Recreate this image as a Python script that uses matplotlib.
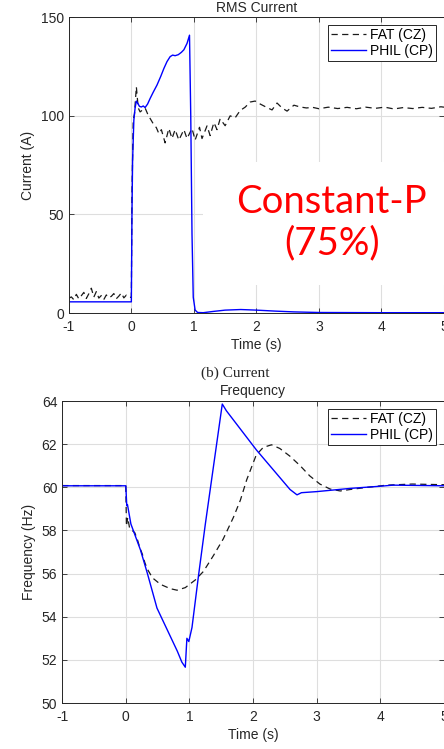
import numpy as np
import matplotlib
matplotlib.use("Agg")
import matplotlib.pyplot as plt
from matplotlib.patches import Rectangle

# RMS current (A)
t_cur_fat = [-1.0, -0.96, -0.92, -0.88, -0.84, -0.8, -0.76, -0.72, -0.68, -0.64, -0.6, -0.56, -0.52,
             -0.48, -0.44, -0.4, -0.36, -0.32, -0.28, -0.24, -0.2, -0.16, -0.12, -0.08, -0.04,
             0.0, 0.01, 0.03, 0.05, 0.08, 0.11, 0.14, 0.18, 0.22, 0.26, 0.30, 0.35, 0.40, 0.44,
             0.48, 0.54, 0.60, 0.65, 0.70, 0.76, 0.84, 0.89, 0.97, 1.02, 1.09, 1.13, 1.21, 1.26,
             1.32, 1.37, 1.42, 1.50, 1.58, 1.66, 1.74, 1.82, 1.90, 1.98, 2.06, 2.17, 2.25, 2.33,
             2.41, 2.49, 2.60, 2.70, 2.80, 2.90, 3.0, 3.15, 3.3, 3.45, 3.6, 3.75, 3.9, 4.05, 4.2,
             4.35, 4.5, 4.65, 4.8, 4.95, 5.0]
i_fat = [7.5, 8.2, 6.8, 9.5, 7.2, 8.8, 10.5, 7.4, 9.8, 12.6, 8.1, 10.9, 7.6, 8.9, 6.9, 9.2,
         7.8, 8.5, 9.9, 7.3, 8.6, 10.2, 7.7, 9.1, 8.0,
         8.0, 60, 98, 101, 114.7, 104, 102, 103, 104, 101, 98.7, 96, 94, 91,
         93, 86.3, 93.6, 88.5, 93, 87.7, 93, 88.5, 93.6, 87.7, 94.2, 88.5, 94.9, 90,
         96.6, 93, 98.5, 95, 100, 99, 102.7, 104.4, 107, 107.5, 106, 104.2, 103, 106.5,
         104, 102.4, 105.4, 104.5, 104, 104.3, 103.6, 104.4, 103.7, 104.3, 103.6, 104.4, 103.8, 104.4, 103.5,
         104.2, 103.7, 104.3, 103.8, 104.6, 104.4]

t_cur_phil = [-1.0, 0.0, 0.01, 0.02, 0.04, 0.06, 0.08, 0.10, 0.13, 0.16, 0.19, 0.22, 0.26, 0.30,
              0.35, 0.41, 0.47, 0.52, 0.57, 0.62, 0.66, 0.70, 0.75, 0.80, 0.84, 0.89, 0.93,
              0.95, 0.97, 0.99, 1.02, 1.06, 1.15, 1.3, 1.5, 1.75, 2.0, 2.3, 2.6, 3.0, 4.0, 5.0]
i_phil = [5.7, 5.7, 50, 77.5, 97.8, 104, 107.5, 106.5, 104.8, 104.5, 105, 104.2, 106, 108.8,
          112, 115.6, 120, 124, 127.5, 130, 130.8, 130.5, 131, 132.2, 133.5, 136.7, 140.9,
          100, 40, 8, 1.5, 0.3, 0.2, 0.8, 1.5, 1.8, 1.5, 1.0, 0.6, 0.3, 0.2, 0.2]

# Frequency (Hz)
t_freq_fat = [-1.0, 0.0, 0.01, 0.03, 0.06, 0.10, 0.14, 0.18, 0.22, 0.26, 0.30, 0.34, 0.42, 0.545,
              0.70, 0.805, 0.935, 1.09, 1.22, 1.38, 1.53, 1.69, 1.80, 1.90, 2.05, 2.16, 2.29,
              2.42, 2.58, 2.74, 2.89, 3.05, 3.21, 3.37, 3.53, 3.8, 4.1, 4.5, 5.0]
f_fat = [60.08, 60.08, 58.2, 58.6, 58.1, 58.0, 57.9, 57.6, 57.2, 56.9, 56.5, 56.2, 55.8, 55.5,
         55.3, 55.23, 55.35, 55.7, 56.1, 56.85, 57.6, 58.6, 59.4, 60.35, 61.5, 61.85, 61.97,
         61.8, 61.44, 61.0, 60.53, 60.15, 59.92, 59.83, 59.9, 60.0, 60.1, 60.15, 60.12]

t_freq_phil = [-1.0, 0.0, 0.015, 0.026, 0.05, 0.08, 0.13, 0.23, 0.34, 0.49, 0.65, 0.81, 0.88,
               0.935, 0.96, 0.99, 1.04, 1.14, 1.25, 1.516, 1.58, 2.05, 2.58, 2.69, 2.76, 3.0,
               3.53, 4.0, 4.2, 5.0]
f_phil = [60.07, 60.07, 59.15, 59.2, 58.8, 58.3, 57.9, 57.1, 56.0, 54.4, 53.4, 52.4, 51.9,
          51.66, 53.0, 52.85, 53.5, 55.85, 58.3, 63.86, 63.55, 61.74, 59.9, 59.65, 59.75, 59.8,
          59.95, 60.05, 60.1, 60.07]

labels = ["FAT (CZ)", "PHIL (CP)"]
time_ticks = [-1, 0, 1, 2, 3, 4, 5]
cur_ticks = [0, 50, 100, 150]
freq_ticks = [50, 52, 54, 56, 58, 60, 62, 64]

plt.rcParams['font.family'] = ['Liberation Sans', 'DejaVu Sans']
plt.rcParams['font.size'] = 10
plt.rcParams['axes.unicode_minus'] = False
dark = '#262626'

fig = plt.figure(figsize=(4.44, 7.49), dpi=100)
ax1 = fig.add_axes([0.155, 0.582, 0.845, 0.395])
ax2 = fig.add_axes([0.140, 0.0614, 0.860, 0.4032])


def style_axes(ax):
    ax.set_axisbelow(True)
    ax.grid(True, color='#dedede', linewidth=0.8)
    ax.tick_params(direction='in', length=3.5, width=0.6, top=True, right=True,
                   colors=dark, labelsize=10)
    ax.tick_params(axis='x', pad=5)
    for sp in ax.spines.values():
        sp.set_color(dark)
        sp.set_linewidth(0.7)


def add_legend(ax):
    leg = ax.legend(loc='upper right', fancybox=False, edgecolor=dark, framealpha=1,
                    borderpad=0.25, labelspacing=0.1, handlelength=2.5, handletextpad=0.3,
                    borderaxespad=0.55, fontsize=10)
    leg.get_frame().set_linewidth(0.7)


ax1.plot(t_cur_fat, i_fat, color='#1a1a1a', linestyle=(0, (5, 3.5)), linewidth=0.9, label=labels[0])
ax1.plot(t_cur_phil, i_phil, color='#0000ff', linewidth=1.0, label=labels[1])
ax1.set_xlim(-1, 5)
ax1.set_ylim(0, 150)
ax1.set_xticks(time_ticks)
ax1.set_yticks(cur_ticks)
style_axes(ax1)
ax1.set_title('RMS Current', fontsize=10, pad=4, color=dark)
ax1.set_xlabel('Time (s)', fontsize=10, color=dark, labelpad=3)
ax1.set_ylabel('Current (A)', fontsize=10, color=dark)
add_legend(ax1)

# white panel for the load label
ax1.add_patch(Rectangle((0.357, 0.095), 0.643, 0.415, transform=ax1.transAxes,
                        facecolor='white', edgecolor='none', zorder=1.2))
ax1.text(0.701, 0.305, 'Constant-P\n(75%)', transform=ax1.transAxes, ha='center', va='center',
         color='#ff0000', fontsize=27.5, family='Lato', linespacing=1.2, zorder=3)

fig.text(0.529, 0.502, '(b) Current', ha='center', va='center', fontsize=11,
         family='Liberation Serif', color=dark)

ax2.plot(t_freq_fat, f_fat, color='#1a1a1a', linestyle=(0, (5, 3.5)), linewidth=0.9, label=labels[0])
ax2.plot(t_freq_phil, f_phil, color='#0000ff', linewidth=1.0, label=labels[1])
ax2.set_xlim(-1, 5)
ax2.set_ylim(50, 64)
ax2.set_xticks(time_ticks)
ax2.set_yticks(freq_ticks)
style_axes(ax2)
ax2.set_title('Frequency', fontsize=10, pad=4, color=dark)
ax2.set_xlabel('Time (s)', fontsize=10, color=dark, labelpad=3)
ax2.set_ylabel('Frequency (Hz)', fontsize=10, color=dark)
add_legend(ax2)

fig.savefig('out.png', dpi=100)
